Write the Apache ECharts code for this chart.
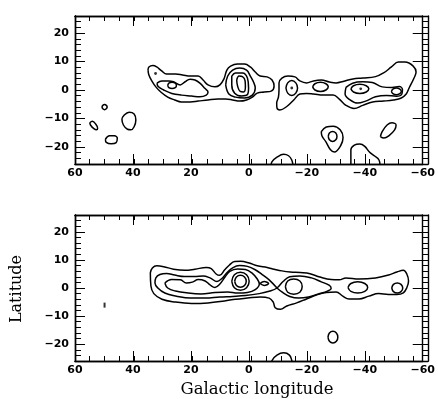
<!DOCTYPE html>
<html>
<head>
<meta charset="utf-8">
<script src="https://cdn.jsdelivr.net/npm/echarts@6/dist/echarts.min.js"></script>
<style>
html, body { margin: 0; padding: 0; background: #fff; }
#chart { width: 438px; height: 399px; }
</style>
</head>
<body>
<div id="chart"></div>
<script>
// axis ticks
var lonTicks = [60, 40, 20, 0, -20, -40, -60];
var latTicks = [-20, -10, 0, 10, 20];

// ---- upper map, contours as [longitude, latitude] ----
var upBandWest = [[34.8,7.0],[34.5,8.1],[33.1,8.6],[31.8,8.1],[30.1,6.7],[28.4,5.6],[25.3,5.6],[22.9,5.3],[20.2,4.9],[17.5,4.9],[15.8,3.5],[14.1,1.8],[11.7,1.1],[10.0,1.8],[8.6,3.9],[7.6,7.0],[6.3,8.4],[3.9,9.1],[1.5,9.1],[-0.5,8.1],[-2.2,6.3],[-3.9,4.9],[-6.3,4.6],[-8.0,3.5],[-8.7,1.4],[-7.7,-0.4],[-5.3,-0.7],[-2.9,-1.1],[-1.2,-2.5],[0.8,-3.5],[3.2,-3.9],[5.6,-3.5],[8.0,-3.2],[10.7,-3.2],[14.1,-3.5],[17.5,-3.9],[20.2,-4.2],[23.3,-4.2],[25.6,-3.5],[28.0,-2.5],[30.4,-0.7],[32.1,1.1],[33.5,3.2],[34.5,5.3]];
var upWest2 = [[31.7,2.4],[30.0,3.2],[27.7,3.2],[26.0,2.9],[23.7,1.8],[22.0,2.9],[20.3,3.8],[18.6,3.5],[16.9,2.4],[15.2,0.6],[14.1,-0.7],[14.7,-1.8],[16.9,-2.4],[19.8,-2.1],[23.2,-1.8],[26.6,-1.2],[29.4,0.0],[31.3,1.2]];
var upWest3 = [[28.0,1.6],[27.6,2.4],[26.5,2.7],[25.4,2.4],[25.0,1.6],[25.4,0.8],[26.5,0.5],[27.6,0.8]];
var upPeak2 = [[8.0,1.8],[7.3,4.9],[5.6,7.0],[3.2,7.7],[0.8,7.0],[-0.5,4.9],[-1.6,2.8],[-2.2,0.7],[-1.2,-1.8],[1.5,-2.8],[4.6,-2.5],[6.9,-1.4]];
var upPeak3 = [[5.9,4.9],[4.6,6.0],[2.2,6.0],[0.5,4.2],[0.1,0.7],[0.5,-1.6],[2.5,-2.1],[4.9,-1.1],[5.9,1.8]];
var upPeak4 = [[4.2,3.5],[3.4,4.9],[2.2,4.7],[1.3,3.2],[1.2,1.1],[1.8,-0.7],[3.0,-0.5],[3.9,1.4]];
var upBandEast = [[-10.4,0.0],[-10.4,2.5],[-11.4,4.2],[-13.5,4.9],[-15.9,4.6],[-17.6,3.2],[-19.9,2.5],[-22.3,3.2],[-25.0,3.5],[-27.8,2.8],[-30.1,2.5],[-32.5,3.0],[-35.9,3.9],[-39.3,4.2],[-43.7,4.7],[-46.5,6.0],[-49.2,8.1],[-51.6,9.8],[-53.9,9.8],[-56.7,8.4],[-57.7,6.3],[-57.0,4.2],[-55.3,0.7],[-54.3,-1.4],[-52.6,-2.8],[-49.9,-3.5],[-46.5,-3.9],[-42.7,-4.2],[-39.3,-5.4],[-36.3,-6.5],[-33.5,-5.4],[-31.2,-3.2],[-29.1,-1.8],[-25.7,-1.8],[-22.3,-1.4],[-19.9,-1.2],[-17.6,-1.4],[-15.5,-3.5],[-13.1,-5.8],[-10.7,-7.0],[-9.7,-6.3],[-9.6,-4.6],[-10.2,-2.5]];
var upEastA = [[-12.8,0.7],[-13.4,2.5],[-14.8,3.3],[-16.2,2.5],[-16.8,0.7],[-16.2,-1.1],[-14.8,-1.9],[-13.4,-1.1]];
var upEastB = [[-22.0,1.1],[-22.8,2.2],[-24.7,2.7],[-26.6,2.2],[-27.4,1.1],[-26.6,0.0],[-24.7,-0.5],[-22.8,0.0]];
var upEast2 = [[-33.5,0.9],[-35.8,2.4],[-39.2,2.9],[-42.6,2.6],[-46.0,1.1],[-49.4,0.9],[-51.9,1.2],[-53.0,0.2],[-52.8,-1.4],[-50.9,-2.2],[-47.5,-1.9],[-43.7,-2.4],[-40.3,-3.9],[-37.5,-4.6],[-34.7,-3.3],[-33.2,-1.4]];
var upEastC = [[-35.2,0.4],[-36.1,1.5],[-38.3,2.0],[-40.5,1.5],[-41.4,0.4],[-40.5,-0.7],[-38.3,-1.2],[-36.1,-0.7]];
var upEastD = [[-49.2,-0.5],[-49.7,0.3],[-50.9,0.7],[-52.1,0.3],[-52.6,-0.5],[-52.1,-1.3],[-50.9,-1.7],[-49.7,-1.3]];
var upIsle1 = [[-25.0,-14.6],[-26.7,-13.0],[-29.1,-12.7],[-31.5,-14.0],[-32.5,-16.7],[-31.7,-19.5],[-29.5,-21.8],[-28.1,-20.9],[-26.6,-18.2],[-25.2,-16.1]];
var upIsle1b = [[-27.4,-16.3],[-27.8,-15.1],[-28.9,-14.6],[-30.0,-15.1],[-30.4,-16.3],[-30.0,-17.5],[-28.9,-18.1],[-27.8,-17.5]];
var upIsle2 = [[-45.4,-16.4],[-46.0,-14.6],[-47.7,-12.3],[-49.4,-11.5],[-50.8,-12.3],[-50.3,-14.0],[-48.3,-16.1],[-46.6,-16.9]];
var upIsle3 = [[50.7,-6.0],[50.4,-5.4],[49.8,-5.1],[49.2,-5.4],[48.9,-6.0],[49.2,-6.6],[49.8,-6.9],[50.4,-6.6]];
var upIsle4 = [[54.9,-11.5],[54.0,-11.0],[52.9,-11.9],[52.2,-13.4],[52.6,-14.0],[53.5,-13.6],[54.6,-12.4]];
var upIsle5 = [[49.5,-17.3],[48.1,-16.1],[46.4,-16.1],[45.4,-16.9],[45.8,-18.5],[47.5,-18.9],[49.2,-18.4]];
var upIsle6 = [[43.0,-8.8],[41.3,-7.8],[39.6,-8.4],[39.0,-10.5],[39.6,-12.9],[40.7,-14.0],[41.9,-13.8],[43.3,-12.3],[43.8,-10.3]];
// open arcs cut by the lower frame
var upEdge1 = [[-7.6,-27],[-8.0,-25.2],[-9.7,-23.6],[-12.0,-22.6],[-13.7,-23.1],[-14.8,-24.6],[-15.3,-27]];
var upEdge2 = [[-35.2,-27],[-35.2,-21.1],[-36.4,-19.4],[-38.3,-19.0],[-40.0,-19.8],[-41.6,-21.8],[-43.4,-23.2],[-44.9,-24.6],[-45.3,-27]];
var upDots = [[32.2,5.8],[-14.8,0.7],[-38.6,0.4]];

// ---- lower map ----
var loBand = [[34.0,5.4],[33.3,7.1],[31.8,7.9],[29.4,7.6],[26.0,6.7],[22.0,6.3],[18.6,6.7],[14.7,7.3],[13.0,6.9],[11.3,5.0],[10.1,4.5],[8.4,6.4],[6.7,8.2],[4.9,9.4],[2.8,9.5],[-0.1,8.9],[-2.9,7.9],[-6.3,7.3],[-8.7,6.7],[-11.4,6.1],[-14.3,5.7],[-17.7,5.5],[-21.1,5.1],[-24.5,3.9],[-28.4,3.0],[-31.2,2.9],[-33.5,3.6],[-38.0,3.2],[-43.7,3.6],[-48.2,4.6],[-51.1,5.7],[-53.3,6.3],[-54.5,5.0],[-55.1,2.5],[-54.5,0.1],[-53.3,-1.7],[-51.1,-2.3],[-48.2,-2.3],[-44.8,-2.0],[-41.4,-2.9],[-38.0,-3.9],[-34.6,-3.9],[-32.4,-2.9],[-30.1,-1.4],[-26.7,-1.6],[-23.3,-2.5],[-19.9,-3.9],[-16.5,-5.3],[-13.1,-6.4],[-10.9,-7.6],[-9.1,-7.0],[-8.4,-5.0],[-7.0,-3.6],[-3.9,-3.2],[0.5,-3.6],[4.5,-4.0],[8.4,-4.6],[14.1,-5.3],[19.8,-5.5],[25.4,-5.0],[30.0,-4.0],[32.8,-2.0],[33.8,0.7]];
var loBand2 = [[-9.7,0.0],[-7.0,2.9],[-4.6,4.8],[-2.2,6.5],[0.5,7.7],[3.2,8.0],[5.6,7.2],[7.6,5.4],[9.3,3.4],[11.0,2.3],[13.4,3.6],[15.8,4.3],[18.8,4.1],[22.2,4.1],[25.6,4.6],[28.4,5.2],[30.7,4.8],[32.1,3.6],[32.4,1.8],[31.4,0.0],[29.0,-1.8],[25.0,-2.9],[20.2,-3.6],[15.1,-3.6],[10.0,-3.2],[5.6,-3.0],[1.2,-2.7],[-3.6,-2.0],[-7.3,-1.1],[-9.7,0.0],[-11.8,2.3],[-14.1,4.0],[-17.6,4.3],[-21.6,3.6],[-25.0,2.2],[-27.8,0.9],[-28.4,-0.2],[-27.1,-1.1],[-24.0,-2.1],[-20.6,-3.2],[-17.2,-3.6],[-14.1,-3.0],[-11.4,-1.4]];
var loBand3 = [[29.0,1.8],[26.7,3.0],[23.6,2.9],[21.6,1.8],[19.5,2.1],[17.5,3.0],[15.1,2.5],[13.4,1.1],[11.7,0.2],[10.0,1.4],[8.3,3.8],[6.6,5.9],[3.9,6.8],[1.2,6.6],[-1.2,5.2],[-2.9,3.2],[-3.6,1.4],[-2.2,-0.6],[0.5,-1.6],[3.9,-1.8],[7.3,-1.4],[11.7,-1.6],[16.5,-2.1],[20.9,-1.8],[25.3,-1.1],[28.0,0.0]];
var loPeak4 = [[5.9,2.4],[5.0,4.7],[2.9,5.6],[0.8,4.7],[-0.1,2.4],[0.8,0.1],[2.9,-0.8],[5.0,0.1]];
var loPeak5 = [[4.9,2.4],[4.3,3.9],[2.9,4.5],[1.5,3.9],[0.9,2.4],[1.5,0.9],[2.9,0.3],[4.3,0.9]];
var loLens = [[-3.8,1.6],[-5.3,2.3],[-6.8,1.6],[-5.3,0.9]];
var loEastA = [[-12.6,0.5],[-13.4,2.5],[-15.5,3.2],[-17.6,2.5],[-18.4,0.5],[-17.6,-1.5],[-15.5,-2.2],[-13.4,-1.5]];
var loEastB = [[-34.2,0.2],[-35.2,1.6],[-37.6,2.2],[-40.0,1.6],[-41.0,0.2],[-40.0,-1.2],[-37.6,-1.8],[-35.2,-1.2]];
var loEastC = [[-49.3,0.0],[-49.9,1.3],[-51.2,1.8],[-52.5,1.3],[-53.1,0.0],[-52.5,-1.3],[-51.2,-1.8],[-49.9,-1.3]];
var loIsle1 = [[-27.3,-17.5],[-27.8,-16.0],[-29.0,-15.4],[-30.2,-16.0],[-30.7,-17.5],[-30.2,-19.0],[-29.0,-19.6],[-27.8,-19.0]];
var loEdge1 = [[-7.8,-27.5],[-8.0,-25.8],[-9.7,-23.9],[-12.0,-23.1],[-14.0,-23.9],[-14.8,-25.8],[-15.0,-27.5]];
var loDots = [[49.8,-6.1]];

var upperLoops = [upBandWest, upWest2, upWest3, upPeak2, upPeak3, upPeak4, upBandEast, upEastA, upEastB, upEast2, upEastC, upEastD,
  upIsle1, upIsle1b, upIsle2, upIsle3, upIsle4, upIsle5, upIsle6];
var upperArcs = [upEdge1, upEdge2];
var lowerLoops = [loBand, loBand2, loBand3, loPeak4, loPeak5, loLens, loEastA, loEastB, loEastC, loIsle1];
var lowerArcs = [loEdge1];

var chart = echarts.init(document.getElementById('chart'));

function fmt(v) {
	return String(v).replace('-', '\u2212');
}

var labelStyle = {
	color: '#000',
	fontFamily: 'DejaVu Sans',
	fontWeight: 'bold',
	fontSize: 11
};

var panels = [
	{top: 16, height: 148, loops: upperLoops, arcs: upperArcs, dots: upDots, dotSymbol: 'circle', dotSize: 2.8},
	{top: 215, height: 146, loops: lowerLoops, arcs: lowerArcs, dots: loDots, dotSymbol: 'rect', dotSize: [2, 5]}
];

var grids = [], xAxes = [], yAxes = [], series = [];

panels.forEach(function (p, pi) {
	[true, false].forEach(function (major) {
		var g = grids.length;
		grids.push({left: 75, width: 353, top: p.top, height: p.height});
		['bottom', 'top'].forEach(function (pos) {
			xAxes.push({
				gridIndex: g, type: 'value', position: pos, inverse: true,
				min: -60, max: 60, interval: major ? 20 : 5,
				axisLine: {onZero: false, lineStyle: {color: '#000', width: 1.4}},
				axisTick: {inside: true, length: major ? 10 : 5, lineStyle: {color: '#000', width: 1}},
				axisLabel: Object.assign({show: major && pos === 'bottom', margin: 4, formatter: fmt,
					showMinLabel: true, showMaxLabel: true}, labelStyle),
				splitLine: {show: false}
			});
		});
		['left', 'right'].forEach(function (pos) {
			var ax = {
				gridIndex: g, type: 'value', position: pos, min: -26, max: 26,
				axisLine: {onZero: false, lineStyle: {color: '#000', width: 1.4}},
				axisTick: {inside: true, length: major ? 10 : 6, lineStyle: {color: '#000', width: 1}},
				axisLabel: Object.assign({show: major && pos === 'left', margin: 6, formatter: fmt}, labelStyle),
				splitLine: {show: false}
			};
			if (major) {
				ax.axisTick.customValues = latTicks;
				ax.axisLabel.customValues = latTicks;
			} else {
				ax.interval = 2;
			}
			yAxes.push(ax);
		});
	});

	var axisIdx = pi * 4;
	function addLine(pts) {
		series.push({
			type: 'line', xAxisIndex: axisIdx, yAxisIndex: axisIdx,
			data: pts, showSymbol: false, smooth: 0.4, silent: true,
			lineStyle: {color: '#000', width: 1.5}
		});
	}
	p.loops.forEach(function (loop) {
		addLine(loop.concat([loop[0]]));
	});
	p.arcs.forEach(addLine);
	series.push({
		type: 'scatter', xAxisIndex: axisIdx, yAxisIndex: axisIdx,
		data: p.dots, symbol: p.dotSymbol, symbolSize: p.dotSize, silent: true,
		itemStyle: {color: '#000'}
	});
});

var option = {
	animation: false,
	backgroundColor: '#fff',
	grid: grids,
	xAxis: xAxes,
	yAxis: yAxes,
	series: series,
	graphic: [
		{type: 'text', x: 17, y: 289, rotation: Math.PI / 2,
			style: {text: 'Latitude', font: '16px "DejaVu Serif"', fill: '#000', textAlign: 'center', textVerticalAlign: 'middle'}},
		{type: 'text', x: 257, y: 390,
			style: {text: 'Galactic longitude', font: '16.5px "DejaVu Serif"', fill: '#000', textAlign: 'center', textVerticalAlign: 'middle'}}
	]
};

chart.setOption(option);
</script>
</body>
</html>
